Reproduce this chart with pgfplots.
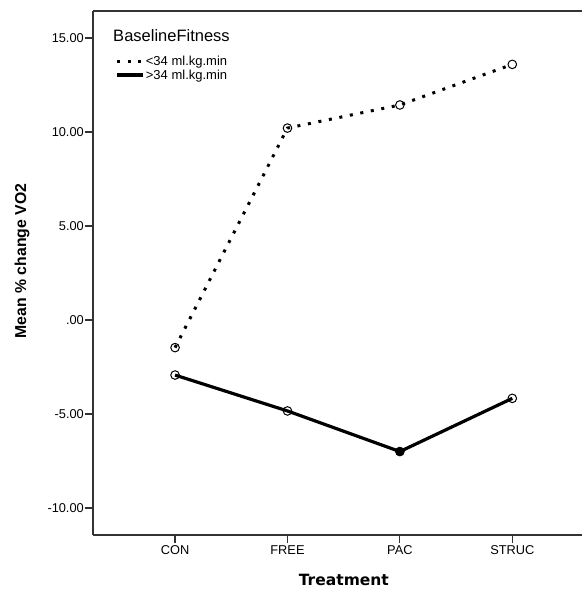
\documentclass[border=0pt]{standalone}
\usepackage{pgfplots}
\pgfplotsset{compat=1.18}
\usepackage{fontspec}
\setmainfont{Liberation Sans}
\newfontfamily\djv{DejaVu Sans}
\usetikzlibrary{calc}
\begin{document}
\begin{tikzpicture}
\begin{axis}[
  scale only axis,
  width=489pt, height=524pt,
  xmin=-0.73, xmax=3.62,
  ymin=-11.44, ymax=16.44,
  axis x line=box, axis y line=left,
  axis line style={line width=1.2pt, color=black!80, -},
  xtick={0,1,2,3}, xticklabels={CON,FREE,PAC,STRUC},
  ytick={-10,-5,0,5,10,15},
  yticklabels={-10.00,-5.00,.00,5.00,10.00,15.00},
  xtick pos=bottom, ytick pos=left,
  tick align=outside, major tick length=8pt,
  tick style={line width=1.2pt, color=black!80},
  ticklabel style={font=\fontsize{12.8}{14}\selectfont},
  yticklabel style={inner sep=1pt},
  xticklabel style={inner sep=2pt},
  every axis y label/.style={at={(rel axis cs:0,0.523)}, xshift=-71pt, rotate=90, anchor=center},
  every axis x label/.style={at={(rel axis cs:0.513,0)}, yshift=-45pt, anchor=center},
  ylabel={\bfseries\fontsize{15.8}{18}\selectfont Mean \% change VO2},
  xlabel={\djv\bfseries\fontsize{15.5}{18}\selectfont Treatment},
  legend style={at={(rel axis cs:0.045,0.918)}, anchor=north west, draw=none, fill=none,
    inner sep=0pt, row sep=0pt, nodes={inner sep=1.5pt, font=\fontsize{13}{15}\selectfont}},
  legend cell align=left,
  legend image code/.code={\draw[#1] (0pt,0pt) -- (26pt,0pt);},
  clip=false,
]
\addplot[black, line width=3pt, dash pattern=on 3pt off 7.7pt,
  mark=o, mark size=4.3pt, mark options={solid, line width=1pt}]
  coordinates {(0,-1.47) (1,10.21) (2,11.44) (3,13.6)};
\addlegendentry{<34 ml.kg.min}
\addplot[black, line width=3.2pt,
  mark=o, mark size=4.3pt, mark options={solid, line width=1pt}]
  coordinates {(0,-2.93) (1,-4.84) (2,-7.0) (3,-4.17)};
\addlegendentry{>34 ml.kg.min}
\addplot[only marks, black, mark=*, mark size=4.3pt, forget plot]
  coordinates {(2,-7.0)};
\node[anchor=base west, inner sep=0pt, font=\fontsize{16.5}{18}\selectfont]
  at (rel axis cs:0.041,0.9414) {BaselineFitness};
\end{axis}
\pgfresetboundingbox
\path[use as bounding box] ([xshift=-93pt,yshift=-54pt]current axis.south west) rectangle ([yshift=11pt]current axis.north east);
\end{tikzpicture}
\end{document}
